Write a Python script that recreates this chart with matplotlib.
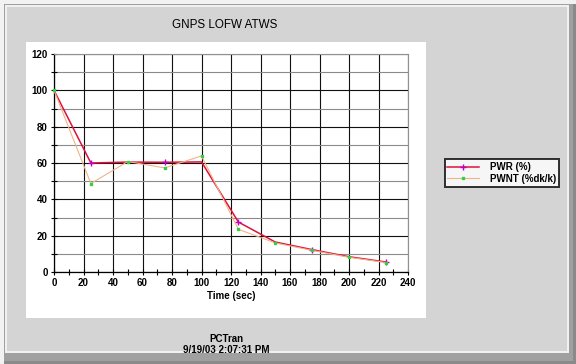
import matplotlib
matplotlib.use("Agg")
import matplotlib.pyplot as plt
from matplotlib.patches import Rectangle
from matplotlib.ticker import MultipleLocator

# ---- data ----
time_s = [0, 25, 50, 75, 100, 125, 150, 175, 200, 225]
pwr = [100, 60, 60.5, 60.4, 60.6, 27.5, 16.5, 12.3, 8.4, 5.5]
pwnt = [100, 48.7, 60.8, 57.3, 63.9, 23.5, 16.0, 11.9, 8.1, 5.2]
labels = ["PWR (%)", "PWNT (%dk/k)"]
title = "GNPS LOFW ATWS"
xlabel = "Time (sec)"
footer = "PCTran\n9/19/03 2:07:31 PM"

FONT = "Liberation Sans"
plt.rcParams["font.family"] = [FONT, "DejaVu Sans"]
plt.rcParams["font.weight"] = "bold"

W, H = 576, 364
fig = plt.figure(figsize=(W / 100, H / 100), dpi=100)
fig.patch.set_facecolor("#f2f2f2")


def rect(x0, y0, x1, y1, color):
    fig.patches.append(Rectangle((x0 / W, 1 - y1 / H), (x1 - x0) / W, (y1 - y0) / H,
                                 transform=fig.transFigure, facecolor=color,
                                 edgecolor="none", zorder=-10))


# 3D window frame
rect(4, 4, 576, 364, "#8a8a8a")
rect(4, 4, 573, 361, "#a0a0a0")
rect(5, 5, 569, 353, "#f0f0f0")
rect(7, 7, 567, 351, "#d4d4d4")
# white chart panel
rect(26, 42, 426, 318, "#ffffff")

ax = fig.add_axes([54 / W, 1 - 272 / H, 354 / W, 218 / H])
ax.set_zorder(5)
ax.set_facecolor("white")
ax.set_xlim(0, 240)
ax.set_ylim(0, 120)
ax.xaxis.set_major_locator(MultipleLocator(20))
ax.xaxis.set_minor_locator(MultipleLocator(10))
ax.yaxis.set_major_locator(MultipleLocator(20))
ax.yaxis.set_minor_locator(MultipleLocator(10))
ax.grid(which="major", color="#101010", linewidth=0.8)
ax.grid(which="minor", axis="y", color="#8a8a8a", linewidth=0.8)
ax.set_axisbelow(True)
for s in ["top", "right"]:
    ax.spines[s].set_color("#909090")
    ax.spines[s].set_linewidth(0.8)
for s in ["left", "bottom"]:
    ax.spines[s].set_color("black")
    ax.spines[s].set_linewidth(0.9)
ax.tick_params(which="major", direction="inout", length=5, width=0.8, pad=2,
               labelsize=7)
ax.tick_params(which="minor", direction="inout", length=4, width=0.8)

l1, = ax.plot(time_s, pwr, color="#e0103c", linewidth=1.1, marker="+",
              markersize=4, markeredgecolor="#c000c8", markeredgewidth=1,
              markevery=slice(1, None, 2), zorder=3, clip_on=False)
l2, = ax.plot(time_s, pwnt, color="#f0b488", linewidth=0.8, marker="s",
              markersize=1.7, markerfacecolor="#30d040", markeredgecolor="#30d040",
              zorder=4, clip_on=False)

ax.set_xlabel(xlabel, fontweight="bold", fontsize=7, labelpad=2)

fig.text(224.5 / W, 1 - 25 / H, title, ha="center", va="center",
         fontweight="normal", fontsize=8.4)
fig.text(226 / W, 1 - 344.5 / H, footer, ha="center", va="center",
         fontweight="bold", fontsize=7, linespacing=1.15)

leg = fig.legend([l1, l2], labels, loc="center",
                 bbox_to_anchor=(502 / W, 1 - 173 / H),
                 prop={"weight": "bold", "size": 7},
                 frameon=True, fancybox=False, handlelength=3.2,
                 handletextpad=1.2, borderpad=0.3, labelspacing=0.15,
                 borderaxespad=0, markerscale=1.0)
leg.get_frame().set_edgecolor("black")
leg.get_frame().set_linewidth(1.4)
leg.get_frame().set_facecolor("white")

fig.savefig("out.png", dpi=100, facecolor=fig.get_facecolor())
